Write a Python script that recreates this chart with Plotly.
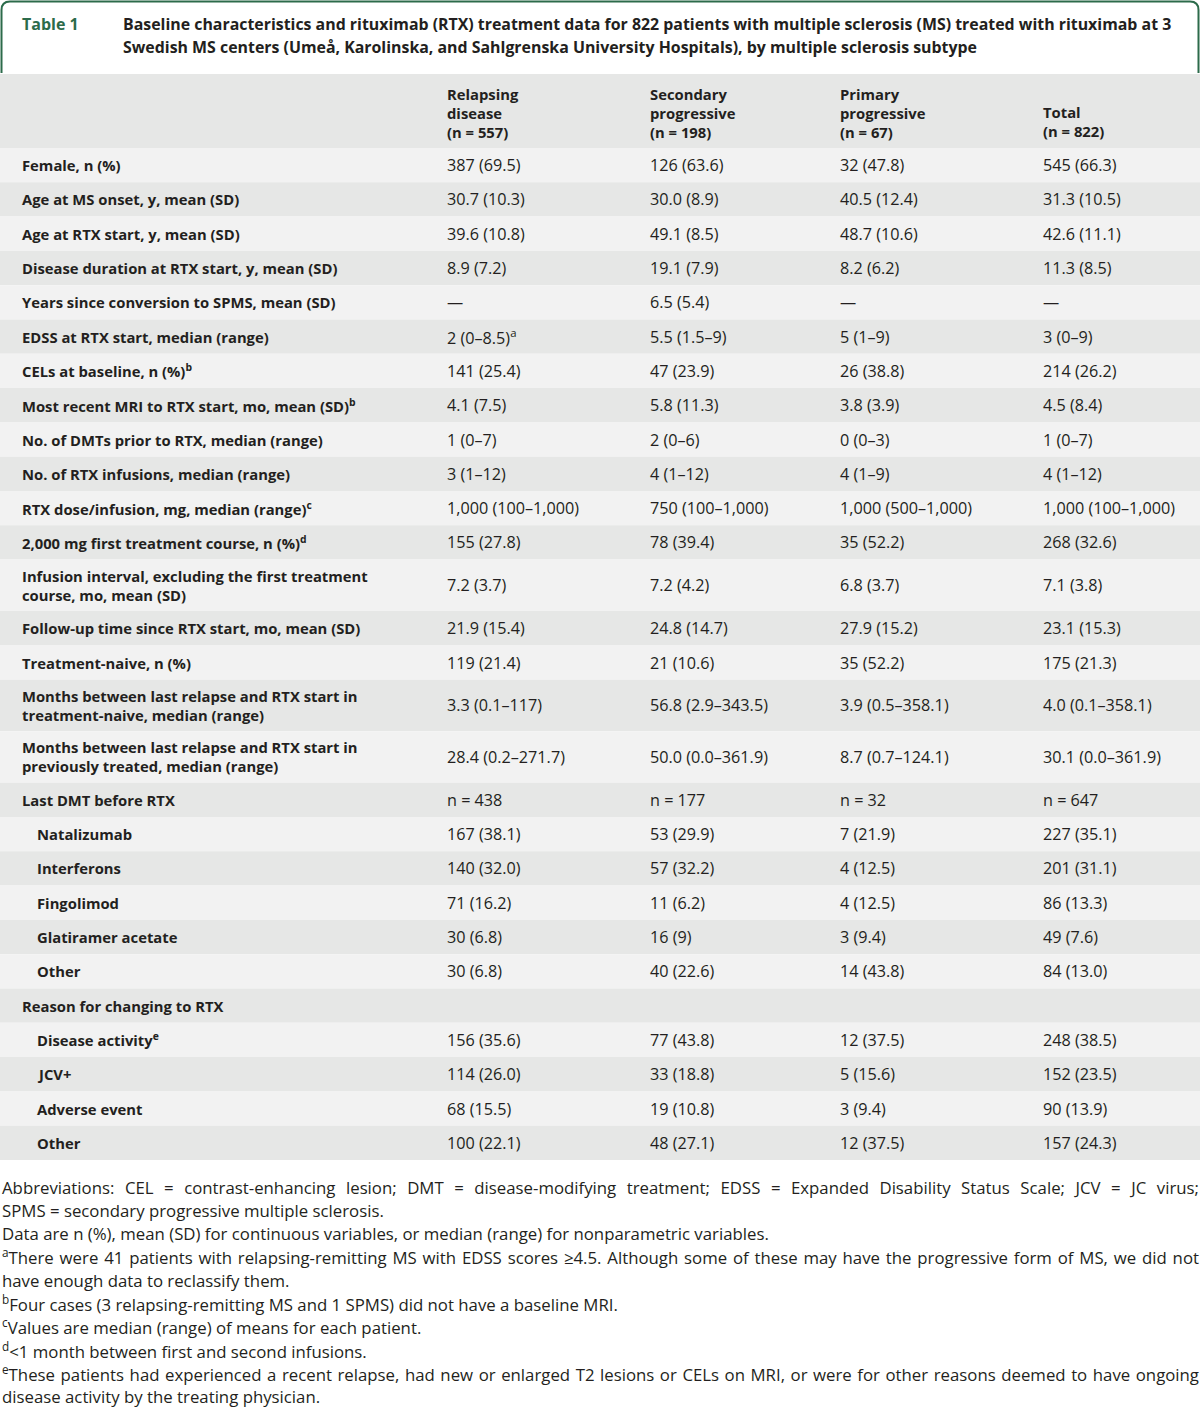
import json
import plotly.graph_objects as go

# ---------------- data ----------------
title_label = "Table 1"
title_lines = [
    "Baseline characteristics and rituximab (RTX) treatment data for 822 patients with multiple sclerosis (MS) treated with rituximab at 3",
    "Swedish MS centers (Umeå, Karolinska, and Sahlgrenska University Hospitals), by multiple sclerosis subtype",
]
col_headers = [
    ["Relapsing", "disease", "(n = 557)"],
    ["Secondary", "progressive", "(n = 198)"],
    ["Primary", "progressive", "(n = 67)"],
    ["Total", "(n = 822)"],
]
row_labels = [
    "Female, n (%)",
    "Age at MS onset, y, mean (SD)",
    "Age at RTX start, y, mean (SD)",
    "Disease duration at RTX start, y, mean (SD)",
    "Years since conversion to SPMS, mean (SD)",
    "EDSS at RTX start, median (range)",
    "CELs at baseline, n (%)<sup>b</sup>",
    "Most recent MRI to RTX start, mo, mean (SD)<sup>b</sup>",
    "No. of DMTs prior to RTX, median (range)",
    "No. of RTX infusions, median (range)",
    "RTX dose/infusion, mg, median (range)<sup>c</sup>",
    "2,000 mg first treatment course, n (%)<sup>d</sup>",
    "Infusion interval, excluding the first treatment<br>course, mo, mean (SD)",
    "Follow-up time since RTX start, mo, mean (SD)",
    "Treatment-naive, n (%)",
    "Months between last relapse and RTX start in<br>treatment-naive, median (range)",
    "Months between last relapse and RTX start in<br>previously treated, median (range)",
    "Last DMT before RTX",
    "Natalizumab",
    "Interferons",
    "Fingolimod",
    "Glatiramer acetate",
    "Other",
    "Reason for changing to RTX",
    "Disease activity<sup>e</sup>",
    "JCV+",
    "Adverse event",
    "Other",
]
row_indent = [0]*18 + [1]*5 + [0] + [1]*4
relapsing = ["387 (69.5)", "30.7 (10.3)", "39.6 (10.8)", "8.9 (7.2)", "—", "2 (0–8.5)<sup>a</sup>",
             "141 (25.4)", "4.1 (7.5)", "1 (0–7)", "3 (1–12)", "1,000 (100–1,000)", "155 (27.8)",
             "7.2 (3.7)", "21.9 (15.4)", "119 (21.4)", "3.3 (0.1–117)", "28.4 (0.2–271.7)", "n = 438",
             "167 (38.1)", "140 (32.0)", "71 (16.2)", "30 (6.8)", "30 (6.8)", "",
             "156 (35.6)", "114 (26.0)", "68 (15.5)", "100 (22.1)"]
secondary = ["126 (63.6)", "30.0 (8.9)", "49.1 (8.5)", "19.1 (7.9)", "6.5 (5.4)", "5.5 (1.5–9)",
             "47 (23.9)", "5.8 (11.3)", "2 (0–6)", "4 (1–12)", "750 (100–1,000)", "78 (39.4)",
             "7.2 (4.2)", "24.8 (14.7)", "21 (10.6)", "56.8 (2.9–343.5)", "50.0 (0.0–361.9)", "n = 177",
             "53 (29.9)", "57 (32.2)", "11 (6.2)", "16 (9)", "40 (22.6)", "",
             "77 (43.8)", "33 (18.8)", "19 (10.8)", "48 (27.1)"]
primary = ["32 (47.8)", "40.5 (12.4)", "48.7 (10.6)", "8.2 (6.2)", "—", "5 (1–9)",
           "26 (38.8)", "3.8 (3.9)", "0 (0–3)", "4 (1–9)", "1,000 (500–1,000)", "35 (52.2)",
           "6.8 (3.7)", "27.9 (15.2)", "35 (52.2)", "3.9 (0.5–358.1)", "8.7 (0.7–124.1)", "n = 32",
           "7 (21.9)", "4 (12.5)", "4 (12.5)", "3 (9.4)", "14 (43.8)", "",
           "12 (37.5)", "5 (15.6)", "3 (9.4)", "12 (37.5)"]
total = ["545 (66.3)", "31.3 (10.5)", "42.6 (11.1)", "11.3 (8.5)", "—", "3 (0–9)",
         "214 (26.2)", "4.5 (8.4)", "1 (0–7)", "4 (1–12)", "1,000 (100–1,000)", "268 (32.6)",
         "7.1 (3.8)", "23.1 (15.3)", "175 (21.3)", "4.0 (0.1–358.1)", "30.1 (0.0–361.9)", "n = 647",
         "227 (35.1)", "201 (31.1)", "86 (13.3)", "49 (7.6)", "84 (13.0)", "",
         "248 (38.5)", "152 (23.5)", "90 (13.9)", "157 (24.3)"]
footnotes = [
    "Abbreviations: CEL = contrast-enhancing lesion; DMT = disease-modifying treatment; EDSS = Expanded Disability Status Scale; JCV = JC virus;",
    "SPMS = secondary progressive multiple sclerosis.",
    "Data are n (%), mean (SD) for continuous variables, or median (range) for nonparametric variables.",
    "<sup>a</sup>There were 41 patients with relapsing-remitting MS with EDSS scores ≥4.5. Although some of these may have the progressive form of MS, we did not",
    "have enough data to reclassify them.",
    "<sup>b</sup>Four cases (3 relapsing-remitting MS and 1 SPMS) did not have a baseline MRI.",
    "<sup>c</sup>Values are median (range) of means for each patient.",
    "<sup>d</sup>&lt;1 month between first and second infusions.",
    "<sup>e</sup>These patients had experienced a recent relapse, had new or enlarged T2 lesions or CELs on MRI, or were for other reasons deemed to have ongoing",
    "disease activity by the treating physician.",
]
justified_lines = [0, 3, 8]   # footnote lines set full-width in the reference

# ---------------- style ----------------
W, H = 1200, 1407
GREEN = "#2c6b4b"
TEXT = "#231f20"
HEAD_BG = "#e6e7e6"
LIGHT = "#f2f2f2"
DARK = "#e6e7e6"
FONT = "Open Sans"
FS_LABEL = 14.8
FS_VALUE = 16.2
col_x = [445, 648, 838, 1041]
label_x, indent_x = 20, 35
header_top, header_bot = 74, 148
header_line_y = [96, 113, 130]
single_h, double_h = 34.3, 51.5
foot_top, foot_step = 1187, 23.3

fig = go.Figure()
fig.add_trace(go.Scatter(x=[0, W], y=[0, H], mode="markers", marker=dict(opacity=0),
                         hoverinfo="skip", showlegend=False))
shapes, ann = [], []

# title frame (rounded top corners, open bottom)
shapes.append(dict(type="path", xref="x", yref="y",
                   path="M 1.5 73 L 1.5 10 Q 1.5 1.5 10 1.5 L 1190 1.5 Q 1198.5 1.5 1198.5 10 L 1198.5 73",
                   line=dict(color=GREEN, width=2)))
ann.append(dict(x=label_x, y=24, text=f"<b>{title_label}</b>", xanchor="left", yanchor="middle",
                font=dict(family=FONT, size=16, color=GREEN)))
for i, t in enumerate(title_lines):
    ann.append(dict(x=121, y=24 + 23 * i, text=f"<b>{t}</b>", xanchor="left", yanchor="middle",
                    font=dict(family=FONT, size=15.9, color=TEXT)))

# header band (column headings bottom-aligned)
shapes.append(dict(type="rect", xref="x", yref="y", x0=0, x1=W, y0=header_top, y1=header_bot,
                   fillcolor=HEAD_BG, line=dict(width=0), layer="below"))
for cx, hdr in zip(col_x, col_headers):
    ys = header_line_y[len(header_line_y) - len(hdr):]
    ann.append(dict(x=cx, y=sum(ys) / len(ys), text="<b>" + "<br>".join(hdr) + "</b>",
                    xanchor="left", yanchor="middle", align="left",
                    font=dict(family=FONT, size=FS_LABEL, color=TEXT)))

# body rows
y = header_bot
for i, lab in enumerate(row_labels):
    h = double_h if "<br>" in lab else single_h
    shapes.append(dict(type="rect", xref="x", yref="y", x0=0, x1=W, y0=y, y1=y + h,
                       fillcolor=LIGHT if i % 2 == 0 else DARK, line=dict(width=0), layer="below"))
    yc = y + h / 2
    ann.append(dict(x=indent_x if row_indent[i] else label_x, y=yc, text=f"<b>{lab}</b>",
                    xanchor="left", yanchor="middle", align="left",
                    font=dict(family=FONT, size=FS_LABEL, color=TEXT)))
    for cx, col in zip(col_x, [relapsing, secondary, primary, total]):
        if col[i]:
            ann.append(dict(x=cx, y=yc, text=col[i], xanchor="left", yanchor="middle",
                            align="left", font=dict(family=FONT, size=FS_VALUE, color=TEXT)))
    y += h

# footnotes
for j, t in enumerate(footnotes):
    ann.append(dict(x=0, y=foot_top + foot_step * j, text=t, xanchor="left", yanchor="middle",
                    align="left", font=dict(family=FONT, size=16.8, color=TEXT)))

for a in ann:
    a.update(xref="x", yref="y", showarrow=False)

fig.update_layout(
    width=W, height=H, margin=dict(l=0, r=0, t=0, b=0),
    paper_bgcolor="white", plot_bgcolor="white",
    xaxis=dict(range=[0, W], visible=False, fixedrange=True),
    yaxis=dict(range=[H, 0], visible=False, fixedrange=True),
    shapes=shapes, annotations=ann, showlegend=False,
)

# justify the full-width footnote lines (word spacing), as in the reference
keys = [footnotes[k].split("</sup>")[-1][:25] for k in justified_lines]
js = """
document.body.style.margin='0';document.body.style.overflow='hidden';
try {
  var keys = %s;
  var els = document.querySelectorAll('text.annotation-text');
  els.forEach(function(el){
    var tc = el.textContent;
    for (var i = 0; i < keys.length; i++) {
      if (tc.indexOf(keys[i]) >= 0 && tc.indexOf(keys[i]) < 4) {
        var n = (tc.match(/ /g) || []).length;
        var bb = el.getBoundingClientRect();
        var extra = (1199 - bb.right) / n;
        if (extra > 0 && extra < 20) {
          el.style.wordSpacing = extra + 'px';
          el.querySelectorAll('tspan').forEach(function(t){ t.style.wordSpacing = extra + 'px'; });
        }
      }
    }
  });
} catch (e) {}
""" % json.dumps(keys, ensure_ascii=False)
fig.write_html("out.html", config={"displayModeBar": False}, post_script=js)
